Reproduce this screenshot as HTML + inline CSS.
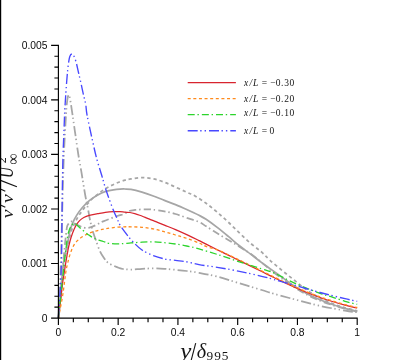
<!DOCTYPE html>
<html><head><meta charset="utf-8"><title>chart</title>
<style>
html,body{margin:0;padding:0;background:#fff;}
body{width:408px;height:360px;position:relative;overflow:hidden;font-family:"Liberation Sans",sans-serif;}
svg{position:absolute;left:0;top:0;display:block;will-change:transform;}
</style></head><body>
<svg width="408" height="360" viewBox="0 0 408 360">
<path d="M58.40 318.10C58.75 314.25 59.77 303.35 60.50 295.00C61.23 286.65 62.10 274.43 62.80 268.00C63.50 261.57 63.87 260.70 64.70 256.40C65.53 252.10 66.93 246.42 67.80 242.20C68.67 237.98 69.08 234.33 69.90 231.10C70.72 227.87 71.55 225.47 72.70 222.80C73.85 220.13 75.18 217.65 76.80 215.10C78.42 212.55 80.32 209.92 82.40 207.50C84.48 205.08 86.75 202.68 89.30 200.60C91.85 198.52 95.08 196.50 97.70 195.00C100.32 193.50 102.38 192.45 105.00 191.60C107.62 190.75 110.90 190.32 113.40 189.90C115.90 189.48 118.07 189.25 120.00 189.10C121.93 188.95 123.17 188.95 125.00 189.00C126.83 189.05 128.17 188.87 131.00 189.40C133.83 189.93 138.28 191.10 142.00 192.20C145.72 193.30 149.57 194.63 153.30 196.00C157.03 197.37 160.70 198.97 164.40 200.40C168.10 201.83 171.78 203.08 175.50 204.60C179.22 206.12 182.78 207.72 186.70 209.50C190.62 211.28 195.77 213.67 199.00 215.30C202.23 216.93 203.07 217.28 206.10 219.30C209.13 221.32 213.50 224.55 217.20 227.40C220.90 230.25 224.60 233.33 228.30 236.40C232.00 239.47 235.68 242.85 239.40 245.80C243.12 248.75 246.88 251.30 250.60 254.10C254.32 256.90 258.47 260.18 261.70 262.60C264.93 265.02 266.53 266.10 270.00 268.60C273.47 271.10 278.33 274.60 282.50 277.60C286.67 280.60 290.83 283.87 295.00 286.60C299.17 289.33 303.33 291.80 307.50 294.00C311.67 296.20 315.83 298.05 320.00 299.80C324.17 301.55 328.33 303.08 332.50 304.50C336.67 305.92 340.88 307.17 345.00 308.30C349.12 309.43 355.17 310.80 357.20 311.30" fill="none" stroke="#a6a6a6" stroke-width="1.75"/>
<path d="M58.40 318.10C58.83 314.25 60.15 303.35 61.00 295.00C61.85 286.65 62.67 275.17 63.50 268.00C64.33 260.83 65.12 256.67 66.00 252.00C66.88 247.33 67.85 243.67 68.80 240.00C69.75 236.33 70.85 232.50 71.70 230.00C72.55 227.50 73.23 226.46 73.90 225.00C74.58 223.54 75.03 222.68 75.75 221.25C76.47 219.82 77.31 217.96 78.25 216.40C79.19 214.84 80.36 213.37 81.40 211.90C82.44 210.43 83.47 208.96 84.50 207.60C85.53 206.24 86.45 205.08 87.60 203.75C88.75 202.42 90.08 200.89 91.40 199.60C92.72 198.31 94.10 197.15 95.50 196.00C96.90 194.85 98.43 193.75 99.80 192.70C101.17 191.65 102.23 190.67 103.70 189.70C105.17 188.73 106.88 187.82 108.60 186.90C110.32 185.98 112.20 185.02 114.00 184.20C115.80 183.38 117.53 182.68 119.40 182.00C121.28 181.32 123.32 180.62 125.25 180.10C127.18 179.58 128.21 179.32 131.00 178.90C133.79 178.48 138.28 177.60 142.00 177.60C145.72 177.60 149.57 178.13 153.30 178.90C157.03 179.67 160.70 180.83 164.40 182.20C168.10 183.57 171.78 185.43 175.50 187.10C179.22 188.77 183.45 190.72 186.70 192.20C189.95 193.68 191.77 194.15 195.00 196.00C198.23 197.85 202.40 200.60 206.10 203.30C209.80 206.00 213.50 209.05 217.20 212.20C220.90 215.35 224.60 218.75 228.30 222.20C232.00 225.65 235.68 229.38 239.40 232.90C243.12 236.42 246.88 240.08 250.60 243.30C254.32 246.52 258.47 249.37 261.70 252.20C264.93 255.03 266.53 257.20 270.00 260.30C273.47 263.40 278.33 267.38 282.50 270.80C286.67 274.22 290.83 277.50 295.00 280.80C299.17 284.10 303.33 287.73 307.50 290.60C311.67 293.47 315.83 295.83 320.00 298.00C324.17 300.17 328.33 301.97 332.50 303.60C336.67 305.23 340.88 306.58 345.00 307.80C349.12 309.02 355.17 310.38 357.20 310.90" fill="none" stroke="#a6a6a6" stroke-width="1.75" stroke-dasharray="3.3 2.95"/>
<path d="M58.40 318.10C58.75 310.08 59.90 286.35 60.50 270.00C61.10 253.65 61.47 238.33 62.00 220.00C62.53 201.67 63.03 177.50 63.70 160.00C64.37 142.50 65.40 125.00 66.00 115.00C66.60 105.00 66.85 103.33 67.30 100.00C67.75 96.67 68.25 95.25 68.70 95.00C69.15 94.75 69.35 95.12 70.00 98.50C70.65 101.88 71.70 109.27 72.60 115.30C73.50 121.33 74.43 128.08 75.40 134.70C76.37 141.32 77.42 148.88 78.40 155.00C79.38 161.12 80.17 164.73 81.30 171.40C82.43 178.07 84.08 188.75 85.20 195.00C86.32 201.25 87.20 204.73 88.00 208.90C88.80 213.07 89.20 216.30 90.00 220.00C90.80 223.70 91.87 227.87 92.80 231.10C93.73 234.33 94.45 236.15 95.60 239.40C96.75 242.65 98.30 247.50 99.70 250.60C101.10 253.70 102.70 256.05 104.00 258.00C105.30 259.95 106.27 261.18 107.50 262.30C108.73 263.42 109.45 263.75 111.40 264.70C113.35 265.65 117.27 267.28 119.20 268.00C121.13 268.72 121.03 268.73 123.00 269.00C124.97 269.27 127.83 269.63 131.00 269.60C134.17 269.57 138.28 269.00 142.00 268.80C145.72 268.60 149.57 268.40 153.30 268.40C157.03 268.40 160.70 268.57 164.40 268.80C168.10 269.03 171.78 269.43 175.50 269.80C179.22 270.17 182.78 270.50 186.70 271.00C190.62 271.50 193.92 271.87 199.00 272.80C204.08 273.73 210.47 274.85 217.20 276.60C223.93 278.35 231.98 281.07 239.40 283.30C246.82 285.53 255.95 288.25 261.70 290.00C267.45 291.75 268.35 292.22 273.90 293.80C279.45 295.38 287.32 297.48 295.00 299.50C302.68 301.52 311.67 304.05 320.00 305.90C328.33 307.75 338.80 309.53 345.00 310.60C351.20 311.67 355.17 312.02 357.20 312.30" fill="none" stroke="#a6a6a6" stroke-width="1.75" stroke-dasharray="10 2.5 1.4 3 1.4 3"/>
<path d="M58.40 318.10C58.83 313.42 60.15 299.68 61.00 290.00C61.85 280.32 62.60 269.83 63.50 260.00C64.40 250.17 65.68 236.85 66.40 231.00C67.12 225.15 66.98 226.50 67.80 224.90C68.62 223.30 69.87 221.47 71.30 221.40C72.73 221.33 74.32 223.47 76.40 224.50C78.48 225.53 81.65 227.08 83.80 227.60C85.95 228.12 87.22 228.05 89.30 227.60C91.38 227.15 93.98 225.93 96.30 224.90C98.62 223.87 99.70 222.88 103.20 221.40C106.70 219.92 113.83 217.23 117.30 216.00C120.77 214.77 122.05 214.83 124.00 214.00C125.95 213.17 127.17 211.68 129.00 211.00C130.83 210.32 132.83 210.17 135.00 209.90C137.17 209.63 139.67 209.50 142.00 209.40C144.33 209.30 147.12 209.25 149.00 209.30C150.88 209.35 150.73 209.37 153.30 209.70C155.87 210.03 160.70 210.58 164.40 211.30C168.10 212.02 171.78 212.92 175.50 214.00C179.22 215.08 182.78 216.47 186.70 217.80C190.62 219.13 195.77 220.58 199.00 222.00C202.23 223.42 203.07 224.42 206.10 226.30C209.13 228.18 213.50 231.02 217.20 233.30C220.90 235.58 224.60 237.77 228.30 240.00C232.00 242.23 235.68 244.40 239.40 246.70C243.12 249.00 246.88 251.17 250.60 253.80C254.32 256.43 258.47 259.88 261.70 262.50C264.93 265.12 266.53 266.75 270.00 269.50C273.47 272.25 278.33 275.98 282.50 279.00C286.67 282.02 290.83 284.93 295.00 287.60C299.17 290.27 303.33 292.83 307.50 295.00C311.67 297.17 315.83 298.92 320.00 300.60C324.17 302.28 328.33 303.73 332.50 305.10C336.67 306.47 340.88 307.72 345.00 308.80C349.12 309.88 355.17 311.13 357.20 311.60" fill="none" stroke="#a6a6a6" stroke-width="1.75" stroke-dasharray="7.3 2.85 1.5 3.05"/>
<path d="M58.40 318.10C58.77 315.08 59.90 305.85 60.60 300.00C61.30 294.15 62.02 287.42 62.60 283.00C63.18 278.58 63.63 276.50 64.10 273.50C64.57 270.50 64.90 268.08 65.40 265.00C65.90 261.92 66.53 258.17 67.10 255.00C67.67 251.83 68.12 249.00 68.80 246.00C69.48 243.00 70.33 239.75 71.20 237.00C72.07 234.25 73.10 231.60 74.00 229.50C74.90 227.40 75.67 225.88 76.60 224.40C77.53 222.92 78.40 221.75 79.60 220.60C80.80 219.45 82.18 218.37 83.80 217.50C85.42 216.63 86.98 216.03 89.30 215.40C91.62 214.77 95.03 214.22 97.70 213.70C100.37 213.18 102.68 212.65 105.30 212.30C107.92 211.95 110.95 211.70 113.40 211.60C115.85 211.50 118.07 211.60 120.00 211.70C121.93 211.80 123.35 212.07 125.00 212.20C126.65 212.33 128.27 212.27 129.90 212.50C131.53 212.73 133.17 213.14 134.80 213.60C136.43 214.06 138.07 214.65 139.70 215.25C141.33 215.85 142.97 216.54 144.60 217.20C146.23 217.86 147.87 218.55 149.50 219.20C151.13 219.85 152.77 220.45 154.40 221.10C156.03 221.75 157.53 222.38 159.30 223.10C161.07 223.82 162.30 224.32 165.00 225.40C167.70 226.48 171.88 228.07 175.50 229.60C179.12 231.13 182.78 232.77 186.70 234.60C190.62 236.43 195.77 239.02 199.00 240.60C202.23 242.18 203.07 242.58 206.10 244.10C209.13 245.62 213.50 247.87 217.20 249.70C220.90 251.53 224.60 253.28 228.30 255.10C232.00 256.92 233.83 257.87 239.40 260.60C244.97 263.33 255.95 268.68 261.70 271.50C267.45 274.32 268.35 274.83 273.90 277.50C279.45 280.17 287.32 284.17 295.00 287.50C302.68 290.83 311.67 294.55 320.00 297.50C328.33 300.45 338.80 303.45 345.00 305.20C351.20 306.95 355.17 307.53 357.20 308.00" fill="none" stroke="#d8242e" stroke-width="1.25"/>
<path d="M58.40 318.10C58.70 316.58 59.45 313.02 60.20 309.00C60.95 304.98 61.98 300.08 62.90 294.00C63.82 287.92 65.03 277.33 65.75 272.50C66.47 267.67 66.69 267.50 67.25 265.00C67.81 262.50 68.38 260.00 69.10 257.50C69.82 255.00 70.66 252.29 71.60 250.00C72.54 247.71 73.39 245.65 74.75 243.75C76.11 241.85 77.97 240.06 79.75 238.60C81.53 237.14 83.48 236.05 85.40 235.00C87.33 233.95 89.08 233.10 91.30 232.30C93.52 231.50 96.37 230.77 98.70 230.20C101.03 229.63 102.85 229.33 105.30 228.90C107.75 228.47 110.28 227.95 113.40 227.60C116.52 227.25 121.07 226.93 124.00 226.80C126.93 226.67 128.00 226.72 131.00 226.80C134.00 226.88 138.28 226.95 142.00 227.30C145.72 227.65 149.57 228.15 153.30 228.90C157.03 229.65 160.70 230.78 164.40 231.80C168.10 232.82 171.78 233.92 175.50 235.00C179.22 236.08 182.78 236.97 186.70 238.30C190.62 239.63 195.77 241.65 199.00 243.00C202.23 244.35 203.07 245.25 206.10 246.40C209.13 247.55 213.50 248.50 217.20 249.90C220.90 251.30 224.60 253.10 228.30 254.80C232.00 256.50 233.83 257.42 239.40 260.10C244.97 262.78 255.95 268.10 261.70 270.90C267.45 273.70 268.35 274.23 273.90 276.90C279.45 279.57 287.32 283.57 295.00 286.90C302.68 290.23 311.67 293.95 320.00 296.90C328.33 299.85 338.80 302.83 345.00 304.60C351.20 306.37 355.17 307.02 357.20 307.50" fill="none" stroke="#ff8a1c" stroke-width="1.3" stroke-dasharray="3.0 2.62"/>
<path d="M58.40 318.10C58.75 314.75 59.87 304.02 60.50 298.00C61.13 291.98 61.70 286.47 62.20 282.00C62.70 277.53 63.08 275.07 63.50 271.20C63.92 267.32 64.33 262.50 64.75 258.75C65.17 255.00 65.58 252.04 66.00 248.70C66.42 245.36 66.82 241.48 67.25 238.70C67.68 235.92 68.07 233.90 68.60 232.00C69.12 230.10 69.60 228.72 70.40 227.30C71.20 225.88 72.57 224.10 73.40 223.50C74.23 222.90 74.60 223.25 75.40 223.70C76.20 224.15 76.80 224.97 78.20 226.20C79.60 227.43 81.95 229.58 83.80 231.10C85.65 232.62 87.45 234.03 89.30 235.30C91.15 236.57 92.58 237.67 94.90 238.70C97.22 239.73 100.77 240.72 103.20 241.50C105.63 242.28 106.70 243.02 109.50 243.40C112.30 243.78 116.42 243.88 120.00 243.80C123.58 243.72 127.33 243.17 131.00 242.90C134.67 242.63 138.28 242.38 142.00 242.20C145.72 242.02 149.57 241.72 153.30 241.80C157.03 241.88 160.70 242.33 164.40 242.70C168.10 243.07 171.78 243.45 175.50 244.00C179.22 244.55 182.78 245.18 186.70 246.00C190.62 246.82 193.92 247.50 199.00 248.90C204.08 250.30 210.47 252.25 217.20 254.40C223.93 256.55 231.98 259.38 239.40 261.80C246.82 264.22 255.95 267.05 261.70 268.90C267.45 270.75 268.35 270.48 273.90 272.90C279.45 275.32 287.32 280.00 295.00 283.40C302.68 286.80 314.00 291.08 320.00 293.30C326.00 295.52 326.83 295.37 331.00 296.70C335.17 298.03 340.63 300.02 345.00 301.30C349.37 302.58 355.17 303.88 357.20 304.40" fill="none" stroke="#2cd42c" stroke-width="1.3" stroke-dasharray="7 2.75 1.4 3"/>
<path d="M58.40 318.10C58.70 313.42 59.70 299.02 60.20 290.00C60.70 280.98 61.13 272.33 61.40 264.00C61.67 255.67 61.70 247.67 61.80 240.00C61.90 232.33 61.90 227.17 62.00 218.00C62.10 208.83 62.23 195.33 62.40 185.00C62.57 174.67 62.77 164.33 63.00 156.00C63.23 147.67 63.52 142.33 63.80 135.00C64.08 127.67 64.47 117.28 64.70 112.00C64.93 106.72 64.93 107.52 65.20 103.30C65.47 99.08 65.88 92.25 66.30 86.70C66.72 81.15 67.20 74.73 67.70 70.00C68.20 65.27 68.80 60.85 69.30 58.30C69.80 55.75 70.28 55.38 70.70 54.70C71.12 54.02 71.33 54.10 71.80 54.20C72.27 54.30 72.80 54.05 73.50 55.30C74.20 56.55 75.17 58.83 76.00 61.70C76.83 64.57 77.67 68.90 78.50 72.50C79.33 76.10 80.17 79.55 81.00 83.30C81.83 87.05 82.72 91.52 83.50 95.00C84.28 98.48 85.10 100.82 85.70 104.20C86.30 107.58 85.90 108.92 87.10 115.30C88.30 121.68 91.28 135.22 92.90 142.50C94.52 149.78 95.33 153.53 96.80 159.00C98.27 164.47 100.07 169.83 101.70 175.30C103.33 180.77 104.65 185.97 106.60 191.80C108.55 197.63 111.62 205.77 113.40 210.30C115.18 214.83 116.20 216.55 117.30 219.00C118.40 221.45 118.43 222.43 120.00 225.00C121.57 227.57 124.48 231.53 126.70 234.40C128.92 237.27 130.75 239.60 133.30 242.20C135.85 244.80 138.67 247.77 142.00 250.00C145.33 252.23 149.57 254.12 153.30 255.60C157.03 257.08 160.70 258.10 164.40 258.90C168.10 259.70 171.78 259.92 175.50 260.40C179.22 260.88 182.78 261.10 186.70 261.80C190.62 262.50 193.92 263.68 199.00 264.60C204.08 265.52 210.47 266.18 217.20 267.30C223.93 268.42 231.98 269.80 239.40 271.30C246.82 272.80 255.95 274.93 261.70 276.30C267.45 277.67 268.35 277.98 273.90 279.50C279.45 281.02 287.32 283.23 295.00 285.40C302.68 287.57 311.67 290.28 320.00 292.50C328.33 294.72 338.80 297.23 345.00 298.70C351.20 300.17 355.17 300.87 357.20 301.30" fill="none" stroke="#4848ff" stroke-width="1.35" stroke-dasharray="10 2.5 1.4 3 1.4 3"/>
<path d="M58.4 44.8V325.1M51.1 318.1H357.7M54.40 307.19H58.4M54.40 296.28H58.4M54.40 285.36H58.4M54.40 274.45H58.4M51.10 263.54H58.4M54.40 252.63H58.4M54.40 241.72H58.4M54.40 230.80H58.4M54.40 219.89H58.4M51.10 208.98H58.4M54.40 198.07H58.4M54.40 187.16H58.4M54.40 176.24H58.4M54.40 165.33H58.4M51.10 154.42H58.4M54.40 143.51H58.4M54.40 132.60H58.4M54.40 121.68H58.4M54.40 110.77H58.4M51.10 99.86H58.4M54.40 88.95H58.4M54.40 78.04H58.4M54.40 67.12H58.4M54.40 56.21H58.4M51.10 45.30H58.4M73.34 318.1V322.30M88.28 318.1V322.30M103.22 318.1V322.30M118.16 318.1V325.10M133.10 318.1V322.30M148.04 318.1V322.30M162.98 318.1V322.30M177.92 318.1V325.10M192.86 318.1V322.30M207.80 318.1V322.30M222.74 318.1V322.30M237.68 318.1V325.10M252.62 318.1V322.30M267.56 318.1V322.30M282.50 318.1V322.30M297.44 318.1V325.10M312.38 318.1V322.30M327.32 318.1V322.30M342.26 318.1V322.30M357.20 318.1V325.10" fill="none" stroke="#000" stroke-width="1.15"/>
<path d="M187.7 82.6H235.9" fill="none" stroke="#d8242e" stroke-width="1.25"/>
<path d="M187.7 98.6H235.9" fill="none" stroke="#ff8a1c" stroke-width="1.3" stroke-dasharray="3.0 2.62"/>
<path d="M187.7 114.7H235.9" fill="none" stroke="#2cd42c" stroke-width="1.3" stroke-dasharray="7 2.75 1.4 3"/>
<path d="M187.7 130.7H235.9" fill="none" stroke="#4848ff" stroke-width="1.35" stroke-dasharray="10 2.5 1.4 3 1.4 3"/>
<g font-family="Liberation Sans, sans-serif" font-size="10.3" fill="#0a0a0a">
<text x="47.5" y="321.90" text-anchor="end">0</text>
<text x="47.5" y="267.34" text-anchor="end">0.001</text>
<text x="47.5" y="212.78" text-anchor="end">0.002</text>
<text x="47.5" y="158.22" text-anchor="end">0.003</text>
<text x="47.5" y="103.66" text-anchor="end">0.004</text>
<text x="47.5" y="49.10" text-anchor="end">0.005</text>
<text x="58.40" y="335.7" text-anchor="middle">0</text>
<text x="118.16" y="335.7" text-anchor="middle">0.2</text>
<text x="177.92" y="335.7" text-anchor="middle">0.4</text>
<text x="237.68" y="335.7" text-anchor="middle">0.6</text>
<text x="297.44" y="335.7" text-anchor="middle">0.8</text>
<text x="357.20" y="335.7" text-anchor="middle">1</text>
</g>
<g font-family="Liberation Serif, serif" font-size="9.5" fill="#151515">
<text x="244.1" y="85.9" font-style="italic">x</text>
<text x="249.4" y="85.9" font-style="italic">/</text>
<text x="253.0" y="85.9" font-style="italic">L</text>
<text x="261.7" y="85.9">=</text>
<text x="270.2" y="85.9">−</text>
<text x="275.7" y="85.9" textLength="18.6" lengthAdjust="spacing">0.30</text>
<text x="244.1" y="101.8" font-style="italic">x</text>
<text x="249.4" y="101.8" font-style="italic">/</text>
<text x="253.0" y="101.8" font-style="italic">L</text>
<text x="261.7" y="101.8">=</text>
<text x="270.2" y="101.8">−</text>
<text x="275.7" y="101.8" textLength="18.6" lengthAdjust="spacing">0.20</text>
<text x="244.1" y="115.8" font-style="italic">x</text>
<text x="249.4" y="115.8" font-style="italic">/</text>
<text x="253.0" y="115.8" font-style="italic">L</text>
<text x="261.7" y="115.8">=</text>
<text x="270.2" y="115.8">−</text>
<text x="275.7" y="115.8" textLength="18.6" lengthAdjust="spacing">0.10</text>
<text x="244.1" y="133.8" font-style="italic">x</text>
<text x="249.4" y="133.8" font-style="italic">/</text>
<text x="253.0" y="133.8" font-style="italic">L</text>
<text x="261.7" y="133.8">=</text>
<text x="269.6" y="133.8">0</text>
</g>
<g font-family="Liberation Serif, serif" fill="#151515">
<text transform="translate(180.3 357.8) scale(1.28 1.06)" font-size="19.5" font-style="italic">y</text>
<path d="M195.7 343.2L191.0 361" stroke="#151515" stroke-width="1.1" fill="none"/>
<text x="196.7" y="358.0" font-size="20.2" font-style="italic">δ</text>
<text x="206.5" y="359.7" font-size="13.3" textLength="22.0" lengthAdjust="spacing">995</text>
</g>
<g font-family="Liberation Serif, serif" fill="#151515">
<text transform="translate(12.9 218.2) rotate(-90) scale(1.22 1.0)" font-size="16" font-style="italic">v</text>
<path d="M5.3 207.3L1.0 205.2" stroke="#151515" stroke-width="1.2" fill="none"/>
<text transform="translate(12.9 202.9) rotate(-90) scale(1.22 1.0)" font-size="16" font-style="italic">v</text>
<path d="M5.3 191.3L1.0 189.2" stroke="#151515" stroke-width="1.2" fill="none"/>
<path d="M16.9 186.8L0.5 180.4" stroke="#151515" stroke-width="1.15" fill="none"/>
<text transform="translate(13.3 177.9) rotate(-90) scale(0.8 1.0)" font-size="18.5" font-style="italic">U</text>
<text transform="translate(17.9 164.4) rotate(-90)" font-size="15.5">∞</text>
<text transform="translate(6.3 163.2) rotate(-90)" font-size="12">2</text>
</g>
<rect x="0" y="0" width="1.2" height="360" fill="#000"/>
</svg>
</body></html>
